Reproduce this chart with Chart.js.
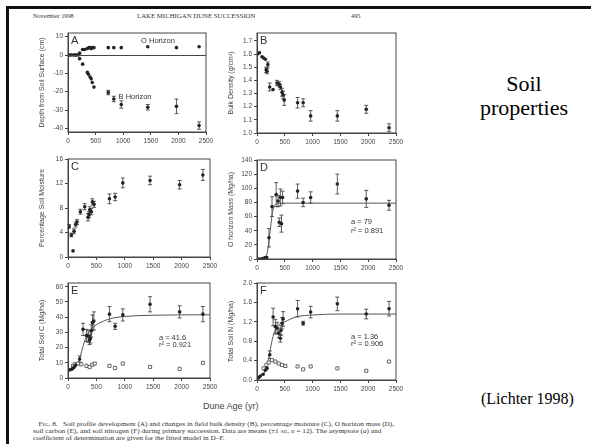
<!DOCTYPE html>
<html lang="en">
<head>
  <meta charset="UTF-8" />
  <title>Soil properties</title>
  <script src="https://cdn.jsdelivr.net/npm/chart.js"></script>
  <style>
    body {
      margin: 0;
      width: 591px;
      height: 444px;
      background: #fff;
      position: relative;
      overflow: hidden;
      font-family: "Liberation Serif", serif;
    }
    .frame {
      position: absolute;
      left: 6px;
      top: 6px;
      width: 600px;
      height: 460px;
      border-top: 3px solid #111;
      border-left: 3px solid #111;
    }
    .panel { position: absolute; }
    .txt { position: absolute; white-space: nowrap; color: #333; }
    .head { font-size: 6.3px; top: 12px; }
    .cap {
      font-size: 6.4px; left: 33px; line-height: 6.2px; top: 421px; color: #333;
      transform: scaleX(1.14); transform-origin: left top;
    }
    .big { font-size: 22px; color: #000; text-align: center; width: 120px; left: 464px; }
    .axisT { font-family: "Liberation Sans", sans-serif; font-size: 9px; color: #444; }
  </style>
</head>
<body>
  <div class="frame"></div>

  <div class="txt head" style="left:33px">November 1998</div>
  <div class="txt head" style="left:137px; font-size:6.8px">LAKE MICHIGAN DUNE SUCCESSION</div>
  <div class="txt head" style="left:351px">495</div>

  <div class="panel" id="pA"><canvas id="cA"></canvas></div>
  <div class="panel" id="pB"><canvas id="cB"></canvas></div>
  <div class="panel" id="pC"><canvas id="cC"></canvas></div>
  <div class="panel" id="pD"><canvas id="cD"></canvas></div>
  <div class="panel" id="pE"><canvas id="cE"></canvas></div>
  <div class="panel" id="pF"><canvas id="cF"></canvas></div>

  <div class="txt axisT" style="left:203px; top:401px">Dune Age (yr)</div>

  <div class="txt cap">
    &nbsp;&nbsp;&nbsp;F<span style="font-size:5px">IG</span>. 8.&nbsp;&nbsp;&nbsp;Soil profile development (A) and changes in field bulk density (B), percentage moisture (C), O horizon mass (D),<br>
    soil carbon (E), and soil nitrogen (F) during primary succession. Data are means (±1 <span style="font-size:5px">SE</span>, <i>n</i> = 12). The asymptote (<i>a</i>) and<br>
    coefficient of determination are given for the fitted model in D–F.
  </div>

  <div class="txt big" style="top:71px">Soil</div>
  <div class="txt big" style="top:95px">properties</div>
  <div class="txt" style="left:481px; top:390px; font-size:16px; color:#000">(Lichter 1998)</div>

  <script>
    // shared x axis
    const xTicks = [0, 500, 1000, 1500, 2000, 2500];

    // A: soil profile
    const aOAge = [0, 30, 60, 100, 130, 150, 180, 210, 265, 300, 350, 380, 400, 420, 440, 470, 730, 830, 965, 1445, 1965, 2375];
    const aODepth = [0, 0, 0, 0, 0, 0, 0, 1, 3, 3, 3.5, 4, 4, 3.5, 4, 4, 4, 4, 4, 4.5, 4, 4.5];
    const aBAge = [210, 265, 350, 370, 400, 420, 440, 470, 730, 830, 965, 1445, 1965, 2375];
    const aBDepth = [-2, -5, -9.5, -10.5, -12, -13, -15, -17.5, -20.5, -24, -27, -28.5, -28, -38.5];
    const aBErr = [0.5, 0.5, 0.5, 0.5, 0.5, 0.8, 0.8, 0.8, 1.2, 1.5, 2, 1.5, 4, 2];
    const aYTicks = [-40, -30, -20, -10, 0, 10];

    // B: bulk density
    const bAge = [10, 45, 90, 120, 150, 165, 180, 195, 228, 288, 360, 400, 420, 450, 468, 490, 730, 830, 965, 1445, 1965, 2375];
    const bDensity = [1.60, 1.61, 1.58, 1.57, 1.56, 1.48, 1.47, 1.52, 1.35, 1.33, 1.38, 1.37, 1.35, 1.31, 1.29, 1.25, 1.23, 1.23, 1.13, 1.13, 1.18, 1.04];
    const bErr = [0.01, 0.01, 0.01, 0.01, 0.01, 0.02, 0.02, 0.02, 0.03, 0.01, 0.02, 0.02, 0.02, 0.03, 0.03, 0.04, 0.04, 0.03, 0.04, 0.04, 0.03, 0.03];
    const bYTicks = [1.0, 1.1, 1.2, 1.3, 1.4, 1.5, 1.6, 1.7];

    // C: soil moisture
    const cAge = [18, 59, 88, 106, 135, 159, 218, 294, 353, 371, 382, 412, 429, 459, 730, 830, 965, 1445, 1965, 2375];
    const cMoisture = [5.0, 3.6, 1.0, 4.2, 5.3, 5.7, 7.4, 8.2, 6.5, 6.9, 7.7, 7.4, 9.0, 8.6, 9.5, 9.8, 12.1, 12.5, 11.8, 13.4];
    const cErr = [0.3, 0.3, 0.2, 0.4, 0.4, 0.4, 0.4, 0.5, 0.6, 0.5, 0.5, 0.5, 0.5, 0.5, 0.8, 0.6, 0.8, 0.7, 0.7, 0.9];
    const cYTicks = [0, 4, 8, 12, 16];

    // D: O horizon mass
    const dAge = [10, 50, 100, 130, 150, 175, 215, 270, 345, 380, 400, 420, 440, 460, 730, 830, 965, 1445, 1965, 2375];
    const dMass = [0, 0, 0.5, 1, 2, 2, 30, 74, 91, 82, 52, 87, 50, 87, 96, 80, 87, 106, 85, 76];
    const dErr = [0.2, 0.2, 0.3, 0.5, 1, 1, 13, 14, 17, 8, 6, 12, 12, 9, 10, 6, 8, 14, 12, 7];
    const dFitAge = [0, 100, 150, 180, 210, 240, 270, 300, 330, 360, 400, 500, 2500];
    const dFitMass = [0, 0.3, 2, 8, 22, 42, 62, 73, 77, 78.5, 79, 79, 79];
    const dYTicks = [0, 20, 40, 60, 80, 100, 120, 140];

    // E: total soil C
    const eAge = [0, 40, 75, 105, 135, 205, 265, 325, 355, 380, 395, 410, 430, 455, 730, 830, 965, 1445, 1965, 2375];
    const eCarbon = [5, 5.5, 6, 7, 8.5, 12.5, 32, 28, 27.5, 25, 26, 31, 36.5, 37.5, 42, 34, 41.5, 48.5, 43.5, 42];
    const eErr = [0.3, 0.3, 0.5, 0.5, 0.8, 2, 4, 4, 4, 3, 3, 4, 5, 6, 5, 2, 4, 5, 4, 5];
    const eOpenAge = [90, 120, 175, 235, 325, 380, 430, 470, 730, 830, 965, 1445, 1965, 2375];
    const eOpenCarbon = [8, 9, 9.5, 9, 8, 7.2, 8.8, 9.5, 8, 6.6, 9.5, 7.3, 6, 10];
    const eFitAge = [0, 100, 150, 200, 250, 300, 350, 400, 500, 600, 700, 800, 1000, 1500, 2500];
    const eFitCarbon = [5, 6, 8, 12, 19, 25, 29, 32, 35, 37, 38.5, 39.5, 40.5, 41.3, 41.6];
    const eYTicks = [0, 10, 20, 30, 40, 50, 60];

    // F: total soil N
    const fAge = [30, 60, 110, 150, 180, 230, 290, 330, 360, 390, 420, 430, 450, 470, 730, 830, 965, 1445, 1965, 2375];
    const fNitrogen = [0.05, 0.08, 0.12, 0.2, 0.24, 0.52, 1.30, 1.10, 1.07, 0.97, 0.86, 1.02, 1.17, 1.26, 1.47, 1.17, 1.40, 1.57, 1.36, 1.47];
    const fErr = [0.01, 0.02, 0.02, 0.03, 0.03, 0.08, 0.18, 0.15, 0.12, 0.1, 0.08, 0.1, 0.12, 0.15, 0.17, 0.04, 0.12, 0.14, 0.1, 0.15];
    const fOpenAge = [120, 170, 210, 270, 330, 390, 450, 510, 730, 830, 965, 1445, 1965, 2375];
    const fOpenNitrogen = [0.24, 0.31, 0.36, 0.41, 0.38, 0.34, 0.31, 0.29, 0.28, 0.22, 0.28, 0.24, 0.19, 0.38];
    const fFitAge = [0, 100, 150, 200, 250, 300, 350, 400, 500, 700, 1000, 1500, 2500];
    const fFitNitrogen = [0.05, 0.1, 0.2, 0.4, 0.7, 0.95, 1.08, 1.15, 1.2, 1.3, 1.34, 1.36, 1.36];
    const fYTicks = [0.0, 0.4, 0.8, 1.2, 1.6, 2.0];

    const INK = '#333';
    const zip = (xs, ys) => xs.map((x, i) => ({ x, y: ys[i] }));

    const dots = (xs, ys, errs) => ({
      data: zip(xs, ys), errors: errs,
      pointRadius: 1.8, pointBackgroundColor: '#222', pointBorderColor: '#222', borderWidth: 0
    });
    const squares = (xs, ys) => ({
      data: zip(xs, ys), pointStyle: 'rect', pointRadius: 2.2,
      pointBackgroundColor: '#fff', pointBorderColor: '#444', pointBorderWidth: 0.8
    });
    const fit = (xs, ys) => ({
      data: zip(xs, ys), showLine: true, pointRadius: 0, borderColor: '#555',
      borderWidth: 1, cubicInterpolationMode: 'monotone'
    });

    // error bars, frame box, panel letter and notes
    const extras = {
      id: 'extras',
      beforeDatasetsDraw(chart) {
        const { ctx, scales: { y } } = chart;
        ctx.save();
        ctx.strokeStyle = '#333';
        ctx.lineWidth = 0.8;
        chart.data.datasets.forEach((ds, i) => {
          if (!ds.errors) return;
          chart.getDatasetMeta(i).data.forEach((pt, j) => {
            const e = ds.errors[j];
            if (!e) return;
            const v = ds.data[j].y;
            const y1 = y.getPixelForValue(v + e), y2 = y.getPixelForValue(v - e);
            if (y2 - y1 < 3) return;
            ctx.beginPath();
            ctx.moveTo(pt.x, y1); ctx.lineTo(pt.x, y2);
            ctx.moveTo(pt.x - 2, y1); ctx.lineTo(pt.x + 2, y1);
            ctx.moveTo(pt.x - 2, y2); ctx.lineTo(pt.x + 2, y2);
            ctx.stroke();
          });
        });
        ctx.restore();
      },
      afterDraw(chart) {
        const { ctx, chartArea: a, scales: { x, y } } = chart;
        const o = chart.options.plugins.extras;
        ctx.save();
        ctx.strokeStyle = '#444';
        ctx.lineWidth = 1;
        ctx.strokeRect(a.left, a.top, a.right - a.left, a.bottom - a.top);
        if (o.zeroLine) {
          const yz = Math.round(y.getPixelForValue(0)) + 0.5;
          ctx.beginPath(); ctx.moveTo(a.left, yz); ctx.lineTo(a.right, yz); ctx.stroke();
        }
        ctx.fillStyle = INK;
        ctx.textBaseline = 'top';
        ctx.font = '11px "Liberation Sans", Arial, sans-serif';
        ctx.fillText(o.letter, a.left + 3, a.top + 2);
        ctx.font = '7.5px "Liberation Sans", Arial, sans-serif';
        ctx.textBaseline = 'middle';
        (o.notes || []).forEach(n => {
          ctx.textAlign = n.align || 'left';
          ctx.fillText(n.text, x.getPixelForValue(n.x), y.getPixelForValue(n.y));
        });
        ctx.restore();
      }
    };

    function panel(id, box, cfg) {
      const padL = 30, padT = 6, padR = 10, padB = 16;
      const w = box.r - box.l + padL + padR;
      const h = box.b - box.t + padT + padB;
      const holder = document.getElementById('p' + id);
      holder.style.left = (box.l - padL) + 'px';
      holder.style.top = (box.t - padT) + 'px';
      const cv = document.getElementById('c' + id);
      cv.width = w; cv.height = h;
      const tickFont = { family: '"Liberation Sans", Arial, sans-serif', size: 6.5 };
      new Chart(cv, {
        type: 'scatter',
        data: { datasets: cfg.datasets },
        options: {
          responsive: false,
          animation: false,
          layout: { padding: { left: 0, top: padT, right: padR, bottom: 0 } },
          plugins: {
            legend: { display: false },
            tooltip: { enabled: false },
            extras: { letter: id, notes: cfg.notes, zeroLine: cfg.zeroLine }
          },
          scales: {
            x: {
              type: 'linear', min: 0, max: 2500,
              afterBuildTicks: s => { s.ticks = xTicks.map(v => ({ value: v })); },
              afterFit: s => { s.height = padB; },
              ticks: {
                font: tickFont, color: '#444', padding: 2, maxRotation: 0,
                callback: v => String(v)
              },
              grid: { drawOnChartArea: false, tickLength: 3, color: '#444' },
              border: { color: '#444' }
            },
            y: {
              min: cfg.yMin, max: cfg.yMax,
              afterBuildTicks: s => { s.ticks = cfg.yTicks.map(v => ({ value: v })); },
              afterFit: s => { s.width = padL; },
              ticks: {
                font: tickFont, color: '#444', padding: 2,
                callback: v => v.toFixed(cfg.dec || 0)
              },
              grid: { drawOnChartArea: false, tickLength: 3, color: '#444' },
              border: { color: '#444' },
              title: {
                display: true, text: cfg.title, color: '#444',
                font: { family: '"Liberation Sans", Arial, sans-serif', size: 7 },
                padding: { top: 0, bottom: 1 }
              }
            }
          }
        },
        plugins: [extras]
      });
    }

    panel('A', { l: 68, r: 206, t: 33, b: 132 }, {
      yMin: -42, yMax: 12, yTicks: aYTicks, zeroLine: true,
      title: 'Depth from Soil Surface (cm)',
      datasets: [dots(aOAge, aODepth), dots(aBAge, aBDepth, aBErr)],
      notes: [
        { x: 1630, y: 7.6, text: 'O Horizon', align: 'center' },
        { x: 1214, y: -23, text: 'B Horizon', align: 'center' }
      ]
    });
    panel('B', { l: 257, r: 396, t: 33, b: 133 }, {
      yMin: 1.0, yMax: 1.76, yTicks: bYTicks, dec: 1,
      title: 'Bulk Density (g/cm³)',
      datasets: [dots(bAge, bDensity, bErr)]
    });
    panel('C', { l: 68, r: 210, t: 159, b: 257 }, {
      yMin: 0, yMax: 16, yTicks: cYTicks,
      title: 'Percentage Soil Moisture',
      datasets: [dots(cAge, cMoisture, cErr)]
    });
    panel('D', { l: 257, r: 396, t: 160, b: 259 }, {
      yMin: 0, yMax: 140, yTicks: dYTicks,
      title: 'O horizon Mass (Mg/ha)',
      datasets: [dots(dAge, dMass, dErr), fit(dFitAge, dFitMass)],
      notes: [
        { x: 1690, y: 52, text: 'a = 79' },
        { x: 1690, y: 40, text: 'r² = 0.891' }
      ]
    });
    panel('E', { l: 68, r: 210, t: 283, b: 378 }, {
      yMin: 0, yMax: 62.5, yTicks: eYTicks,
      title: 'Total Soil C (Mg/ha)',
      datasets: [dots(eAge, eCarbon, eErr), squares(eOpenAge, eOpenCarbon), fit(eFitAge, eFitCarbon)],
      notes: [
        { x: 1600, y: 26.3, text: 'a = 41.6' },
        { x: 1600, y: 21.5, text: 'r² = 0.921' }
      ]
    });
    panel('F', { l: 257, r: 396, t: 283, b: 380 }, {
      yMin: 0, yMax: 2.0, yTicks: fYTicks, dec: 1,
      title: 'Total Soil N (Mg/ha)',
      datasets: [dots(fAge, fNitrogen, fErr), squares(fOpenAge, fOpenNitrogen), fit(fFitAge, fFitNitrogen)],
      notes: [
        { x: 1690, y: 0.89, text: 'a = 1.36' },
        { x: 1690, y: 0.74, text: 'r² = 0.906' }
      ]
    });
  </script>
</body>
</html>
